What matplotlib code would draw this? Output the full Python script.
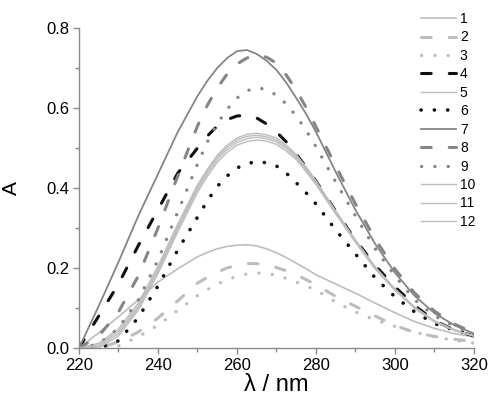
import numpy as np
import matplotlib
matplotlib.use('Agg')
from matplotlib import pyplot as plt
from matplotlib.ticker import MultipleLocator, FormatStrFormatter

plt.rcParams['font.family'] = ['Liberation Sans', 'DejaVu Sans']
plt.rcParams['lines.scale_dashes'] = False

# wavelength grid, nm (denser around the maxima)
wl = [220, 225, 230, 235, 240, 245, 250, 252.5, 255, 257.5, 260, 262.5, 265,
      267.5, 270, 272.5, 275, 277.5, 280, 285, 290, 295, 300, 305, 310, 315, 320]

# absorbance of the 12 spectra
a1 = [0, 0.038, 0.078, 0.12, 0.165, 0.198, 0.228, 0.239, 0.248, 0.254, 0.257, 0.258, 0.255,
      0.248, 0.238, 0.226, 0.212, 0.198, 0.183, 0.16, 0.137, 0.112, 0.088, 0.066, 0.049, 0.036, 0.028]
a2 = [0, 0, 0.015, 0.04, 0.075, 0.118, 0.162, 0.177, 0.19, 0.2, 0.207, 0.211, 0.211,
      0.207, 0.201, 0.193, 0.183, 0.171, 0.158, 0.129, 0.104, 0.08, 0.056, 0.039, 0.029, 0.022, 0.016]
a3 = [0, 0, 0.005, 0.028, 0.057, 0.094, 0.131, 0.146, 0.16, 0.171, 0.179, 0.185, 0.188,
      0.186, 0.182, 0.174, 0.165, 0.155, 0.145, 0.115, 0.09, 0.07, 0.054, 0.04, 0.028, 0.019, 0.012]
a4 = [0, 0.08, 0.16, 0.256, 0.346, 0.437, 0.50, 0.53, 0.555, 0.571, 0.58, 0.582, 0.575,
      0.56, 0.54, 0.515, 0.485, 0.452, 0.417, 0.342, 0.27, 0.206, 0.153, 0.106, 0.068, 0.045, 0.03]
a5 = [0, 0.012, 0.048, 0.112, 0.205, 0.31, 0.408, 0.447, 0.482, 0.507, 0.525, 0.534, 0.537,
      0.533, 0.525, 0.507, 0.484, 0.453, 0.418, 0.343, 0.27, 0.203, 0.148, 0.103, 0.068, 0.046, 0.031]
a6 = [0, 0, 0.018, 0.076, 0.155, 0.245, 0.327, 0.368, 0.404, 0.43, 0.45, 0.461, 0.466,
      0.463, 0.455, 0.437, 0.413, 0.388, 0.36, 0.295, 0.235, 0.175, 0.128, 0.09, 0.061, 0.045, 0.032]
a7 = [0, 0.105, 0.215, 0.33, 0.435, 0.54, 0.63, 0.668, 0.70, 0.725, 0.742, 0.745, 0.735,
      0.718, 0.695, 0.663, 0.625, 0.585, 0.54, 0.44, 0.345, 0.26, 0.188, 0.13, 0.087, 0.057, 0.036]
a8 = [0, 0.03, 0.09, 0.18, 0.30, 0.43, 0.555, 0.607, 0.65, 0.685, 0.71, 0.725, 0.733,
      0.727, 0.712, 0.682, 0.645, 0.601, 0.553, 0.455, 0.36, 0.272, 0.197, 0.137, 0.092, 0.06, 0.038]
a9 = [0, 0.01, 0.05, 0.12, 0.22, 0.34, 0.46, 0.515, 0.56, 0.597, 0.625, 0.643, 0.651,
      0.646, 0.632, 0.61, 0.58, 0.544, 0.503, 0.415, 0.33, 0.248, 0.18, 0.12, 0.08, 0.055, 0.037]
a10 = [0, 0.008, 0.042, 0.105, 0.198, 0.303, 0.402, 0.442, 0.477, 0.502, 0.52, 0.529, 0.532,
       0.528, 0.52, 0.503, 0.48, 0.449, 0.415, 0.34, 0.268, 0.2, 0.146, 0.101, 0.067, 0.045, 0.03]
a11 = [0, 0.004, 0.036, 0.1, 0.192, 0.297, 0.396, 0.436, 0.471, 0.496, 0.514, 0.523, 0.527,
       0.523, 0.515, 0.498, 0.476, 0.445, 0.412, 0.338, 0.266, 0.199, 0.145, 0.1, 0.066, 0.044, 0.03]
a12 = [0, 0, 0.03, 0.094, 0.186, 0.29, 0.389, 0.429, 0.464, 0.489, 0.507, 0.516, 0.52,
       0.517, 0.509, 0.492, 0.471, 0.441, 0.408, 0.335, 0.264, 0.197, 0.144, 0.099, 0.065, 0.044, 0.03]

labels = ['1', '2', '3', '4', '5', '6', '7', '8', '9', '10', '11', '12']
series = [a1, a2, a3, a4, a5, a6, a7, a8, a9, a10, a11, a12]

light = '#bdbdbd'
dark = '#858585'
black = '#111111'
dash = (0, (7, 13))
dot = (0, (0.1, 9.5))
styles = [
    dict(color=light, lw=1.2, ls='-'),
    dict(color=light, lw=2.2, ls=dash),
    dict(color=light, lw=2.4, ls=dot),
    dict(color=black, lw=2.2, ls=dash),
    dict(color=light, lw=1.0, ls='-'),
    dict(color=black, lw=2.6, ls=dot),
    dict(color=dark, lw=1.3, ls='-'),
    dict(color=dark, lw=2.2, ls=dash),
    dict(color=dark, lw=2.4, ls=dot),
    dict(color=light, lw=1.0, ls='-'),
    dict(color=light, lw=1.0, ls='-'),
    dict(color=light, lw=1.0, ls='-'),
]

fig = plt.figure(figsize=(4.88, 4.12), dpi=100)
ax = fig.add_axes([79/488, 1-348/412, 395/488, 320/412])

for y, lab, st in zip(series, labels, styles):
    ax.plot(wl, y, label=lab, dash_capstyle='round', **st)

ax.set_xlim(220, 320)
ax.set_ylim(0, 0.8)
ax.xaxis.set_major_locator(MultipleLocator(20))
ax.xaxis.set_minor_locator(MultipleLocator(10))
ax.yaxis.set_major_locator(MultipleLocator(0.2))
ax.yaxis.set_minor_locator(MultipleLocator(0.1))
ax.yaxis.set_major_formatter(FormatStrFormatter('%.1f'))

for s in ['top', 'right']:
    ax.spines[s].set_visible(False)
for s in ['left', 'bottom']:
    ax.spines[s].set_color('#8a8a8a')
    ax.spines[s].set_linewidth(1.0)
ax.tick_params(which='major', direction='out', length=4, width=1,
               color='#8a8a8a', labelsize=12, pad=3)
ax.tick_params(which='minor', direction='out', length=3, width=1,
               color='#8a8a8a')

ax.set_xlabel('λ / nm', fontsize=17, labelpad=1)
ax.set_ylabel('A', fontsize=15, labelpad=18)

leg = ax.legend(loc='upper left', bbox_to_anchor=(421/488, 1-12/412),
                bbox_transform=fig.transFigure, frameon=False, fontsize=10,
                handlelength=2.5, handletextpad=0.3, labelspacing=0.32,
                borderpad=0, borderaxespad=0)

fig.savefig('out.png', dpi=100)
